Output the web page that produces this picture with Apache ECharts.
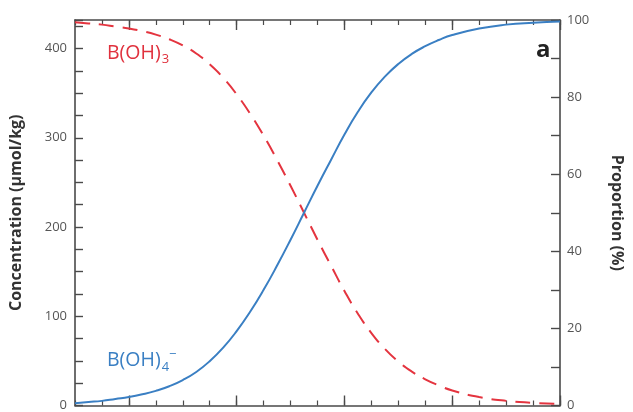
<!DOCTYPE html>
<html><head><meta charset="utf-8">
<script src="https://cdn.jsdelivr.net/npm/echarts@6/dist/echarts.min.js"></script>
<style>html,body{margin:0;padding:0;background:#fff}#c{width:633px;height:412px}</style>
</head><body><div id="c"></div>
<script>
// x: pH (no tick labels visible in the reference)
const pH = [6.5, 6.625, 6.75, 6.875, 7, 7.125, 7.25, 7.375, 7.5, 7.625, 7.75, 7.875, 8, 8.125, 8.25, 8.375, 8.5, 8.625, 8.75, 8.875, 9, 9.125, 9.25, 9.375, 9.5, 9.625, 9.75, 9.875, 10, 10.25, 10.5, 10.75, 11];
// proportion (%) of B(OH)4- (blue, solid)
const borate = [0.6, 0.9, 1.2, 1.7, 2.2, 2.9, 3.8, 5.0, 6.6, 8.7, 11.5, 15.0, 19.3, 24.3, 30.0, 36.3, 43.0, 50.0, 57.0, 63.7, 70.3, 76.2, 81.2, 85.3, 88.6, 91.2, 93.2, 94.8, 96.1, 97.8, 98.8, 99.3, 99.6];
// proportion (%) of B(OH)3 (red, dashed)
const boricAcid = [99.4, 99.1, 98.8, 98.3, 97.8, 97.1, 96.2, 95.0, 93.4, 91.3, 88.5, 85.0, 80.7, 75.7, 70.0, 63.7, 57.0, 50.0, 43.0, 36.3, 29.7, 23.8, 18.8, 14.7, 11.4, 8.8, 6.8, 5.2, 3.9, 2.2, 1.2, 0.7, 0.4];
const majorPH = [7, 8, 9, 10, 11];
const concLabels = [0, 100, 200, 300, 400];
const propLabels = [0, 20, 40, 60, 80, 100];

const axisColor = '#4a4a4a';
const labelColor = '#555';
const fontFam = '"Open Sans", "Noto Sans", sans-serif';

function xAx(pos, major) {
  return {
    type: 'value', min: 6.5, max: 11, position: pos,
    interval: 0.25,
    axisLine: { show: !major, onZero: false, lineStyle: { color: axisColor, width: 1.6 } },
    axisTick: major
      ? { show: true, inside: true, length: 10, customValues: majorPH, lineStyle: { color: axisColor, width: 1.4 } }
      : { show: true, inside: true, length: 5, lineStyle: { color: axisColor, width: 1.2 } },
    axisLabel: { show: false },
    splitLine: { show: false }
  };
}

const chart = echarts.init(document.getElementById('c'), null, { renderer: 'canvas' });
chart.setOption({
  animation: false,
  backgroundColor: '#fff',
  grid: { left: 75, right: 59, top: 20, bottom: 4, containLabel: false },
  xAxis: [xAx('bottom', false), xAx('bottom', true), xAx('top', false), xAx('top', true)],
  yAxis: [
    {
      type: 'value', min: 0, max: 432, interval: 25, position: 'left',
      name: 'Concentration (µmol/kg)', nameLocation: 'middle', nameGap: 51,
      nameTextStyle: { fontFamily: fontFam, fontWeight: 'bold', fontSize: 16, color: '#333' },
      axisLine: { show: true, onZero: false, lineStyle: { color: axisColor, width: 1.6 } },
      axisTick: { show: true, inside: true, length: 8, lineStyle: { color: axisColor, width: 1.4 } },
      axisLabel: {
        fontFamily: fontFam, fontSize: 13, color: labelColor, margin: 8,
        formatter: v => concLabels.includes(v) ? String(v) : ''
      },
      splitLine: { show: false }
    },
    {
      type: 'value', min: 0, max: 100, interval: 10, position: 'right',
      name: 'Proportion (%)', nameLocation: 'middle', nameGap: 49, nameRotate: -90,
      nameTextStyle: { fontFamily: fontFam, fontWeight: 'bold', fontSize: 16, color: '#333' },
      axisLine: { show: true, onZero: false, lineStyle: { color: axisColor, width: 1.6 } },
      axisTick: { show: true, inside: true, length: 9, lineStyle: { color: axisColor, width: 1.4 } },
      axisLabel: {
        fontFamily: fontFam, fontSize: 13, color: labelColor, margin: 7,
        formatter: v => propLabels.includes(v) ? String(v) : ''
      },
      splitLine: { show: false }
    }
  ],
  series: [
    {
      type: 'line', xAxisIndex: 0, yAxisIndex: 1, smooth: true, showSymbol: false,
      data: pH.map((x, i) => [x, boricAcid[i]]),
      lineStyle: { color: '#e4343f', width: 2, type: [15, 9] }
    },
    {
      type: 'line', xAxisIndex: 0, yAxisIndex: 1, smooth: true, showSymbol: false,
      data: pH.map((x, i) => [x, borate[i]]),
      lineStyle: { color: '#3a7fc3', width: 2 }
    }
  ],
  graphic: [
    {
      type: 'text', left: 107, top: 43,
      style: {
        text: '{m|B(OH)}{s|3}',
        rich: {
          m: { fontFamily: fontFam, fontSize: 19.5, fill: '#e0313d' },
          s: { fontFamily: fontFam, fontSize: 13, fill: '#e0313d', padding: [13, 0, 0, 1] }
        }
      }
    },
    {
      type: 'text', left: 107, top: 348,
      style: {
        text: '{m|B(OH)}{s|4}{p|−}',
        rich: {
          m: { fontFamily: fontFam, fontSize: 19.5, fill: '#3a7fc3' },
          s: { fontFamily: fontFam, fontSize: 13, fill: '#3a7fc3', padding: [13, 0, 0, 1] },
          p: { fontFamily: fontFam, fontSize: 13, fill: '#3a7fc3', padding: [0, 0, 12, 0] }
        }
      }
    },
    {
      type: 'text', left: 536, top: 38,
      style: { text: 'a', fontFamily: fontFam, fontWeight: 'bold', fontSize: 24, fill: '#222' }
    }
  ]
});
</script></body></html>
